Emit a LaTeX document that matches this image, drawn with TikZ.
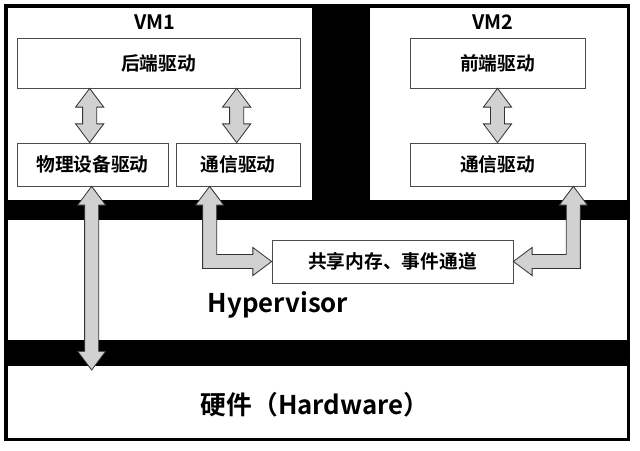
\documentclass[tikz,border=0pt]{standalone}
\usepackage{fontspec}
\newfontfamily\cjk{Noto Sans CJK SC Bold}
\usetikzlibrary{positioning,calc}

\begin{document}
\begin{tikzpicture}[%
    x=0.03cm,
    y=-0.03cm,
    font=\cjk,
    box/.style={%
      draw=black!70,
      fill=white,
      line width=0.6pt,
      inner sep=0pt,
      font=\cjk\fontsize{16}{16}\selectfont
    },
    fat/.style={%
      draw=black!80,
      fill=black!18,
      line width=0.7pt
    }
  ]
    \useasboundingbox (0,0) rectangle (640,451);
    \fill[white] (0,0) rectangle (640,451);
    \fill[black] (4,4) rectangle (630,441);
    % white regions
    \fill[white] (8,8) rectangle (312,200);
    \fill[white] (370,8) rectangle (627,200);
    \fill[white] (8,220) rectangle (627,340);
    \fill[white] (8,366) rectangle (627,438);

    \node[font=\cjk\fontsize{17}{17}\selectfont] (vm1) at (155,22) {VM1};
    \node[font=\cjk\fontsize{17}{17}\selectfont] (vm2) at (493,22) {VM2};

    \node[box, minimum width=283*0.03cm, minimum height=50*0.03cm] (back) at (158.5,63) {后端驱动};
    \node[box, minimum width=151*0.03cm, minimum height=43*0.03cm] (phys) at (92.5,164.5) {物理设备驱动};
    \node[box, minimum width=124*0.03cm, minimum height=43*0.03cm] (comma) at (238,164.5) {通信驱动};
    \node[box, minimum width=175*0.03cm, minimum height=50*0.03cm] (front) at (497.5,63) {前端驱动};
    \node[box, minimum width=175*0.03cm, minimum height=43*0.03cm] (commb) at (497.5,164.5) {通信驱动};
    \node[box, minimum width=241*0.03cm, minimum height=43*0.03cm] (shm) at (392.5,261.5) {共享内存、事件通道};

    \node[font=\cjk\fontsize{22}{22}\selectfont] (hv) at (278,305) {Hypervisor};
    \node[font=\cjk\fontsize{22}{22}\selectfont] (hw) at (315,405) {硬件（Hardware）};

    \coordinate (hwtop) at (92,370);

    \newcommand\fatv[2]{%
      \draw[fat] let \p1=(#1), \p2=(#2) in
        (\x1,\y1) -- (\x1+12pt,\y1-16pt) -- (\x1+6pt,\y1-16pt)
        -- (\x1+6pt,\y2+16pt) -- (\x1+12pt,\y2+16pt) -- (\x1,\y2)
        -- (\x1-12pt,\y2+16pt) -- (\x1-6pt,\y2+16pt)
        -- (\x1-6pt,\y1-16pt) -- (\x1-12pt,\y1-16pt) -- cycle;}

    \fatv{$(back.south west)+(73,0)$}{$(phys.north west)+(73,0)$}
    \fatv{$(back.south west)+(220,0)$}{$(comma.north west)+(61,0)$}
    \fatv{front.south}{commb.north}
    \fatv{$(phys.south west)+(75,0)$}{hwtop}

    \draw[fat] let \p1=($(comma.south west)+(34,0)$), \p2=(shm.west) in
      (\x1,\y1) -- (\x1+12pt,\y1-16pt) -- (\x1+6pt,\y1-16pt)
      -- (\x1+6pt,\y2+6pt) -- (\x2-16pt,\y2+6pt) -- (\x2-16pt,\y2+12pt)
      -- (\x2,\y2) -- (\x2-16pt,\y2-12pt) -- (\x2-16pt,\y2-6pt)
      -- (\x1-6pt,\y2-6pt) -- (\x1-6pt,\y1-16pt) -- (\x1-12pt,\y1-16pt) -- cycle;
    \draw[fat] let \p1=($(commb.south east)+(-12,0)$), \p2=(shm.east) in
      (\x1,\y1) -- (\x1-12pt,\y1-16pt) -- (\x1-6pt,\y1-16pt)
      -- (\x1-6pt,\y2+6pt) -- (\x2+16pt,\y2+6pt) -- (\x2+16pt,\y2+12pt)
      -- (\x2,\y2) -- (\x2+16pt,\y2-12pt) -- (\x2+16pt,\y2-6pt)
      -- (\x1+6pt,\y2-6pt) -- (\x1+6pt,\y1-16pt) -- (\x1+12pt,\y1-16pt) -- cycle;
  \end{tikzpicture}
\end{document}
